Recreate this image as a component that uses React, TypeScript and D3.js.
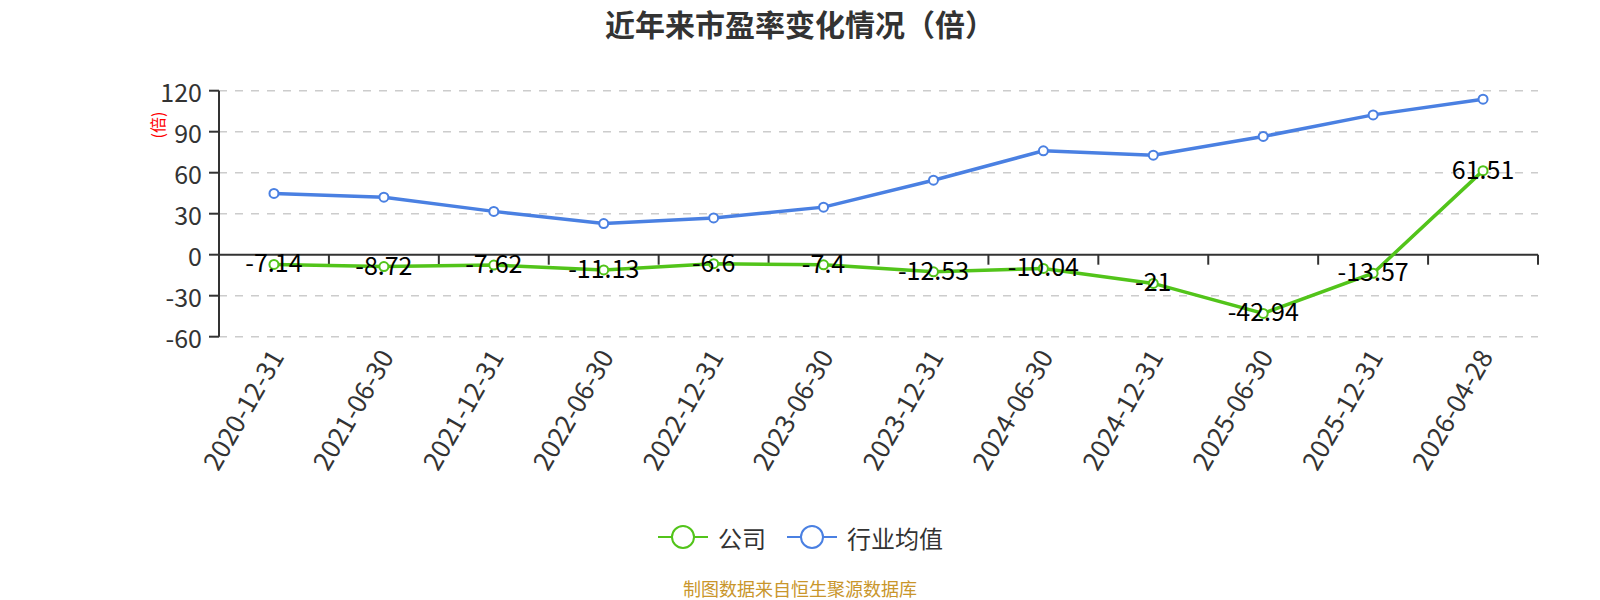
import * as d3 from 'd3';
import { useEffect, useRef } from 'react';

const dates = [
  '2020-12-31',
  '2021-06-30',
  '2021-12-31',
  '2022-06-30',
  '2022-12-31',
  '2023-06-30',
  '2023-12-31',
  '2024-06-30',
  '2024-12-31',
  '2025-06-30',
  '2025-12-31',
  '2026-04-28',
];

// 公司
const companyPE = [-7.14, -8.72, -7.62, -11.13, -6.6, -7.4, -12.53, -10.04, -21, -42.94, -13.57, 61.51];
// 行业均值
const industryPE = [44.8, 42.1, 31.7, 22.8, 26.9, 34.8, 54.5, 76, 72.8, 86.5, 102.3, 113.8];

const yTicks = [-60, -30, 0, 30, 60, 90, 120];

const FONT = '"Noto Sans CJK SC", "Noto Sans", sans-serif';
const GREEN = '#52c41a';
const BLUE = '#4a80e2';

export default function App() {
  const width = 1600;
  const height = 600;
  const ref = useRef<SVGSVGElement>(null);

  useEffect(() => {
    const svg = d3.select(ref.current);
    svg.selectAll('*').remove();

    const x = d3.scaleBand<string>().domain(dates).range([219, 1538]);
    const y = d3.scaleLinear().domain([-60, 120]).range([336.7, 90.7]);
    const cx = (d: string) => (x(d) ?? 0) + x.bandwidth() / 2;

    // title
    svg
      .append('text')
      .attr('x', 800)
      .attr('y', 23)
      .attr('text-anchor', 'middle')
      .attr('dominant-baseline', 'central')
      .attr('font-size', 30)
      .attr('font-weight', 'bold')
      .attr('fill', '#333')
      .text('近年来市盈率变化情况（倍）');

    // grid
    svg
      .append('g')
      .selectAll('line')
      .data(yTicks.filter((t) => t !== 0))
      .join('line')
      .attr('x1', 219)
      .attr('x2', 1538)
      .attr('y1', (d) => y(d))
      .attr('y2', (d) => y(d))
      .attr('stroke', '#ccc')
      .attr('stroke-width', 1.5)
      .attr('stroke-dasharray', '8,8');

    // y axis
    const ya = svg.append('g');
    ya.append('line')
      .attr('x1', 219)
      .attr('x2', 219)
      .attr('y1', y(120))
      .attr('y2', y(-60))
      .attr('stroke', '#333')
      .attr('stroke-width', 2);
    ya.selectAll('line.tick')
      .data(yTicks)
      .join('line')
      .attr('class', 'tick')
      .attr('x1', 209)
      .attr('x2', 219)
      .attr('y1', (d) => y(d))
      .attr('y2', (d) => y(d))
      .attr('stroke', '#333')
      .attr('stroke-width', 2);
    ya.selectAll('text')
      .data(yTicks)
      .join('text')
      .attr('x', 202)
      .attr('y', (d) => y(d))
      .attr('text-anchor', 'end')
      .attr('dominant-baseline', 'central')
      .attr('font-size', 25)
      .attr('fill', '#333')
      .text((d) => d);

    svg
      .append('text')
      .attr('transform', 'translate(157,125) rotate(-90)')
      .attr('text-anchor', 'middle')
      .attr('dominant-baseline', 'central')
      .attr('font-size', 16)
      .attr('fill', 'red')
      .text('(倍)');

    // x axis on zero
    const xa = svg.append('g');
    xa.append('line')
      .attr('x1', 219)
      .attr('x2', 1538)
      .attr('y1', y(0))
      .attr('y2', y(0))
      .attr('stroke', '#333')
      .attr('stroke-width', 2);
    xa.selectAll('line.tick')
      .data([...dates.map((d) => x(d) ?? 0), 1538].slice(1))
      .join('line')
      .attr('class', 'tick')
      .attr('x1', (d) => d)
      .attr('x2', (d) => d)
      .attr('y1', y(0))
      .attr('y2', y(0) + 10)
      .attr('stroke', '#333')
      .attr('stroke-width', 2);
    xa.selectAll('text')
      .data(dates)
      .join('text')
      .attr('transform', (d) => `translate(${cx(d) + 1},351) rotate(-60)`)
      .attr('text-anchor', 'end')
      .attr('dominant-baseline', 'central')
      .attr('font-size', 26)
      .attr('fill', '#333')
      .text((d) => d);

    const line = d3
      .line<number>()
      .x((_, i) => cx(dates[i]))
      .y((d) => y(d));

    const series = [
      { name: '行业均值', values: industryPE, color: BLUE, labels: false },
      { name: '公司', values: companyPE, color: GREEN, labels: true },
    ];

    series.forEach((s) => {
      const g = svg.append('g');
      g.append('path')
        .attr('d', line(s.values))
        .attr('fill', 'none')
        .attr('stroke', s.color)
        .attr('stroke-width', 3.5);
      g.selectAll('circle')
        .data(s.values)
        .join('circle')
        .attr('cx', (_, i) => cx(dates[i]))
        .attr('cy', (d) => y(d))
        .attr('r', 4.5)
        .attr('fill', '#fff')
        .attr('stroke', s.color)
        .attr('stroke-width', 2);
      if (s.labels) {
        g.selectAll('text')
          .data(s.values)
          .join('text')
          .attr('x', (_, i) => cx(dates[i]))
          .attr('y', (d) => y(d) - 3)
          .attr('text-anchor', 'middle')
          .attr('dominant-baseline', 'central')
          .attr('font-size', 25)
          .attr('fill', '#000')
          .text((d) => d);
      }
    });

    // legend
    const legend = [
      { name: '公司', color: GREEN, x0: 658 },
      { name: '行业均值', color: BLUE, x0: 787 },
    ];
    const lg = svg.append('g');
    legend.forEach((l) => {
      lg.append('line')
        .attr('x1', l.x0)
        .attr('x2', l.x0 + 50)
        .attr('y1', 537)
        .attr('y2', 537)
        .attr('stroke', l.color)
        .attr('stroke-width', 2);
      lg.append('circle')
        .attr('cx', l.x0 + 25)
        .attr('cy', 537)
        .attr('r', 11)
        .attr('fill', '#fff')
        .attr('stroke', l.color)
        .attr('stroke-width', 2);
      lg.append('text')
        .attr('x', l.x0 + 60)
        .attr('y', 537)
        .attr('dominant-baseline', 'central')
        .attr('font-size', 24)
        .attr('fill', '#333')
        .text(l.name);
    });

    svg
      .append('text')
      .attr('x', 800)
      .attr('y', 588)
      .attr('text-anchor', 'middle')
      .attr('dominant-baseline', 'central')
      .attr('font-size', 18)
      .attr('fill', '#c9962b')
      .text('制图数据来自恒生聚源数据库');
  }, []);

  return (
    <svg
      ref={ref}
      width={width}
      height={height}
      fontFamily={FONT}
      style={{ position: 'absolute', left: 0, top: 0, display: 'block', background: '#fff' }}
    />
  );
}
